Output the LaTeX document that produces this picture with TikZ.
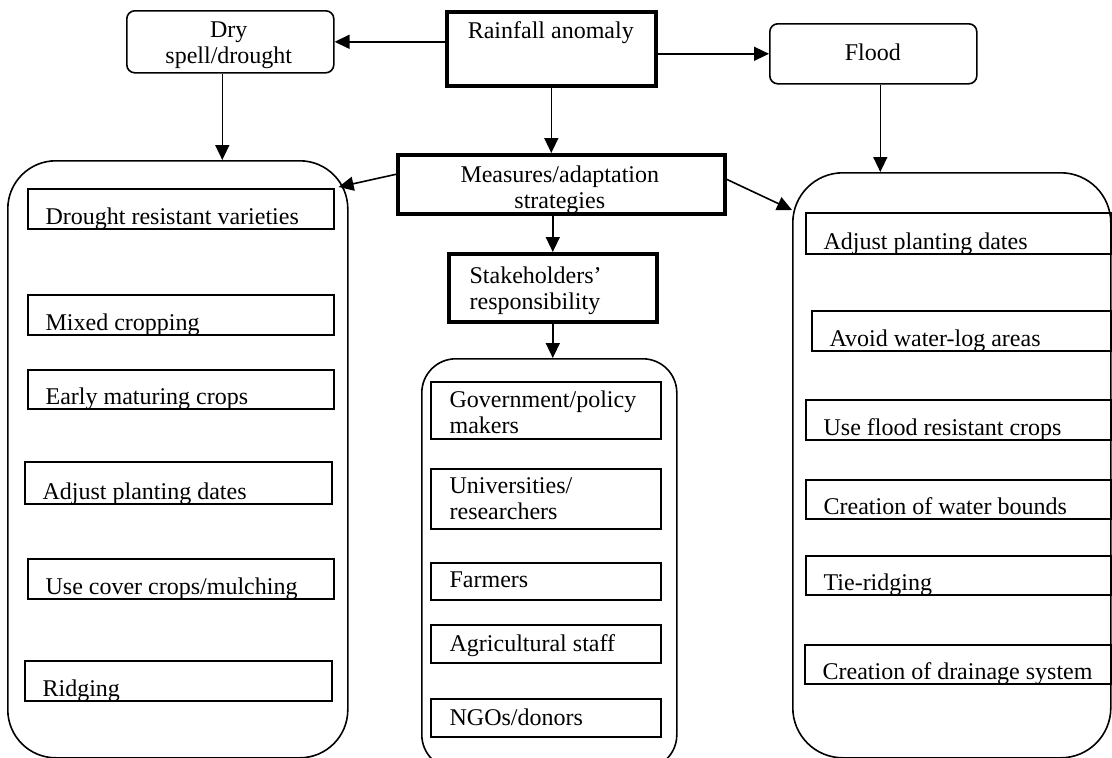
\documentclass[tikz,border=0pt]{standalone}
\usepackage{fontspec}
\setmainfont{Liberation Serif}
\usetikzlibrary{arrows.meta}

\newcommand{\boxfont}{\fontsize{24}{26}\selectfont}
% text set at a fixed baseline inside a box, cut by the box border
\newcommand{\inlabel}[4]{\node[boxtext, #1] at ([shift={(#2pt,{-(#3)*1pt})}]path picture bounding box.north west) {#4};}
\newcommand{\optitem}[6]{\node[itembox, minimum width=#4pt, minimum height=#5pt,
    path picture={\inlabel{anchor=base west}{17}{#5-4}{#6}}] (#1) at (#2,#3) {};}
\newcommand{\stakeitem}[5]{\node[itembox, minimum width=230pt, minimum height=#3pt,
    path picture={\inlabel{anchor=base west}{18}{#4}{#5}}] (#1) at (430,#2) {};}

\tikzset{
  mainbox/.style={draw, line width=3.6pt, inner sep=0pt, anchor=north west},
  eventbox/.style={draw, line width=1.6pt, rounded corners=8pt, inner sep=0pt, anchor=north west},
  groupbox/.style={draw, line width=1.6pt, inner sep=0pt, anchor=north west},
  itembox/.style={draw, line width=1.6pt, inner sep=0pt, anchor=north west},
  boxtext/.style={inner sep=0pt, minimum width=0pt, minimum height=0pt, font=\boxfont, align=left},
  arr/.style={line width=1.6pt, -{Triangle[length=15pt,width=14pt]}},
}

\begin{document}
\begin{tikzpicture}[x=1pt, y=-1pt]
  \useasboundingbox (0,0) rectangle (1112,758);

  % top row
  \node[mainbox, minimum width=209pt, minimum height=74pt,
        path picture={\inlabel{anchor=base}{104}{27}{Rainfall anomaly}}] (rain) at (445,10) {};
  \node[eventbox, minimum width=207pt, minimum height=62pt,
        path picture={\inlabel{anchor=base, align=center}{102}{53}{Dry\\spell/drought}}] (dry) at (126,10) {};
  \node[eventbox, minimum width=207pt, minimum height=60pt,
        path picture={\inlabel{anchor=base}{103}{37}{Flood}}] (flood) at (769,23) {};

  % middle column
  \node[mainbox, minimum width=327pt, minimum height=59pt,
        path picture={\inlabel{anchor=base, align=center}{162}{54}{Measures/adaptation\\strategies}}] (meas) at (396,153) {};
  \node[mainbox, minimum width=208pt, minimum height=68pt,
        path picture={\inlabel{anchor=base west}{19}{56}{Stakeholders'\\responsibility}}] (stake) at (447,252) {};

  % groups
  \node[groupbox, rounded corners=48pt, minimum width=340pt, minimum height=597pt] (drygroup) at (7,160) {};
  \node[groupbox, rounded corners=34pt, minimum width=255pt, minimum height=410pt] (stakegroup) at (421,358) {};
  \node[groupbox, rounded corners=50pt, minimum width=318pt, minimum height=585pt] (floodgroup) at (792,172) {};

  % dry spell measures
  \optitem{d1}{27}{188}{306}{40}{Drought resistant varieties}
  \optitem{d2}{27}{294}{306}{40}{Mixed cropping}
  \optitem{d3}{27}{369}{306}{39}{Early maturing crops}
  \optitem{d4}{24}{461}{307}{42}{Adjust planting dates}
  \optitem{d5}{27}{558}{306}{40}{Use cover crops/mulching}
  \optitem{d6}{24}{660}{307}{40}{Ridging}

  % stakeholders
  \stakeitem{s1}{381}{57}{52}{Government/policy\\makers}
  \stakeitem{s2}{468}{60}{51}{Universities/\\researchers}
  \stakeitem{s3}{562}{37}{25}{Farmers}
  \stakeitem{s4}{624}{38}{27}{Agricultural staff}
  \stakeitem{s5}{698}{38}{27}{NGOs/donors}

  % flood measures
  \optitem{f1}{805}{212}{306}{41}{Adjust planting dates}
  \optitem{f2}{811}{310}{300}{40}{Avoid water-log areas}
  \optitem{f3}{805}{399}{306}{40}{Use flood resistant crops}
  \optitem{f4}{805}{479}{306}{39}{Creation of water bounds}
  \optitem{f5}{805}{555}{306}{39}{Tie-ridging}
  \optitem{f6}{804}{644}{307}{39}{Creation of drainage system}

  % connectors
  \draw[arr] (rain.west |- dry.east) -- (dry.east);
  \draw[arr] (rain.east |- flood.west) -- (flood.west);
  \draw[arr] (rain.south) -- (rain.south |- meas.north);
  \draw[arr] ([xshift=-8pt]dry.south) -- ([xshift=-8pt]dry.south |- drygroup.north);
  \draw[arr] ([xshift=7pt]flood.south) -- ([xshift=7pt]flood.south |- floodgroup.north);
  \draw[arr] ([yshift=10pt]meas.west) -- ([shift={(-10pt,-27pt)}]drygroup.north east);
  \draw[arr] ([yshift=5pt]meas.east) -- ([yshift=-38pt]floodgroup.north west);
  \draw[arr] (stake.north |- meas.south) -- (stake.north);
  \draw[arr] (stake.south) -- (stake.south |- stakegroup.north);
\end{tikzpicture}
\end{document}
